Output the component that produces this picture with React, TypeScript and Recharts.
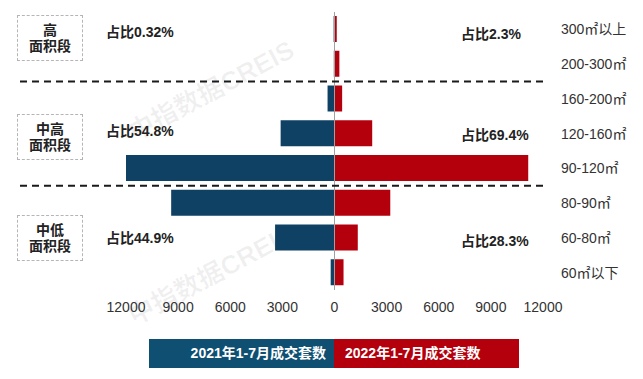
import { BarChart, Bar, XAxis, YAxis, ReferenceLine } from 'recharts';

const ranges = ['300㎡以上', '200-300㎡', '160-200㎡', '120-160㎡', '90-120㎡', '80-90㎡', '60-80㎡', '60㎡以下'];
const deals2021 = [50, 40, 400, 3100, 12000, 9400, 3420, 220];
const deals2022 = [130, 280, 440, 2170, 11150, 3210, 1340, 520];
const xTicks = [-12000, -9000, -6000, -3000, 0, 3000, 6000, 9000, 12000];

const groups = ['高\n面积段', '中高\n面积段', '中低\n面积段'];
const share2021 = ['占比0.32%', '占比54.8%', '占比44.9%'];
const share2022 = ['占比2.3%', '占比69.4%', '占比28.3%'];
const groupEnds = ['200-300㎡', '90-120㎡'];

const FONT = '"Liberation Sans", Arial, "Noto Sans CJK SC", sans-serif';
const BLUE = '#0e4164';
const RED = '#b4000d';

const rows = ranges.map((r, i) => ({ range: r, y2021: -deals2021[i], y2022: deals2022[i] }));

// top edges of the group boxes and the share labels
const groupY = [
  { box: 15, left: 21, right: 23 },
  { box: 114, left: 120, right: 124 },
  { box: 215, left: 227, right: 230 },
];

function Separator(p: any) {
  const right = Math.max(p.x1 ?? 0, p.x2 ?? 0);
  return <line x1={20} y1={p.y1} x2={right} y2={p.y2} stroke="#1a1a1a" strokeWidth={2} strokeDasharray="7 5" />;
}

export default function App() {
  return (
    <div style={{ position: 'absolute', left: 0, top: 0, width: 643, height: 379, background: '#fff', fontFamily: FONT, overflow: 'hidden' }}>
      {/* watermark */}
      {[88, 272].map((cy) => (
        <div
          key={cy}
          style={{
            position: 'absolute', left: 110, top: cy - 18, width: 200, textAlign: 'center',
            transform: 'rotate(-28deg)', fontSize: 26, fontWeight: 700, color: 'rgba(0,0,0,0.06)', whiteSpace: 'nowrap',
          }}
        >
          中指数据CREIS
        </div>
      ))}

      <BarChart
        width={643}
        height={379}
        layout="vertical"
        data={rows}
        stackOffset="sign"
        barSize={26}
        margin={{ top: 12, right: 0, bottom: 59, left: 126 }}
        style={{ position: 'absolute', left: 0, top: 0 }}
      >
        <XAxis
          type="number"
          domain={[-12000, 12000]}
          ticks={xTicks}
          tickFormatter={(v: number) => String(Math.abs(v))}
          axisLine={false}
          tickLine={false}
          tickMargin={6}
          height={30}
          tick={{ fontSize: 14, fill: '#333', fontFamily: FONT }}
        />
        <YAxis
          type="category"
          dataKey="range"
          orientation="right"
          width={100}
          axisLine={false}
          tickLine={false}
          tickMargin={12}
          tick={{ fontSize: 14, fill: '#333', fontFamily: FONT, textAnchor: 'start' }}
        />
        <Bar dataKey="y2021" stackId="a" fill={BLUE} isAnimationActive={false} />
        <Bar dataKey="y2022" stackId="a" fill={RED} isAnimationActive={false} />
        <ReferenceLine x={0} stroke="#a0a0a0" strokeWidth={1} />
        {groupEnds.map((g) => (
          <ReferenceLine key={g} y={g} position="end" ifOverflow="visible" shape={Separator} />
        ))}
      </BarChart>

      {groups.map((g, i) => (
        <div
          key={g}
          style={{
            position: 'absolute', left: 17, top: groupY[i].box, width: 64, height: 44,
            border: '1px dashed #b5b5b5', display: 'flex', alignItems: 'center', justifyContent: 'center',
            textAlign: 'center', whiteSpace: 'pre-line', fontSize: 14, lineHeight: '16px', fontWeight: 700, color: '#222',
          }}
        >
          {g}
        </div>
      ))}
      {share2021.map((s, i) => (
        <div key={s} style={{ position: 'absolute', left: 106, top: groupY[i].left, fontSize: 14, fontWeight: 700, color: '#222' }}>
          {s}
        </div>
      ))}
      {share2022.map((s, i) => (
        <div key={s} style={{ position: 'absolute', left: 461, top: groupY[i].right, fontSize: 14, fontWeight: 700, color: '#222' }}>
          {s}
        </div>
      ))}

      <div style={{ position: 'absolute', left: 149, top: 339, width: 185, height: 29, background: '#0f4f71', color: '#fff', fontSize: 14, fontWeight: 700, lineHeight: '29px', textAlign: 'right', paddingRight: 8, boxSizing: 'border-box' }}>
        2021年1-7月成交套数
      </div>
      <div style={{ position: 'absolute', left: 334, top: 339, width: 185, height: 29, background: '#b3000c', color: '#fff', fontSize: 14, fontWeight: 700, lineHeight: '29px', textAlign: 'left', paddingLeft: 11, boxSizing: 'border-box' }}>
        2022年1-7月成交套数
      </div>
    </div>
  );
}
